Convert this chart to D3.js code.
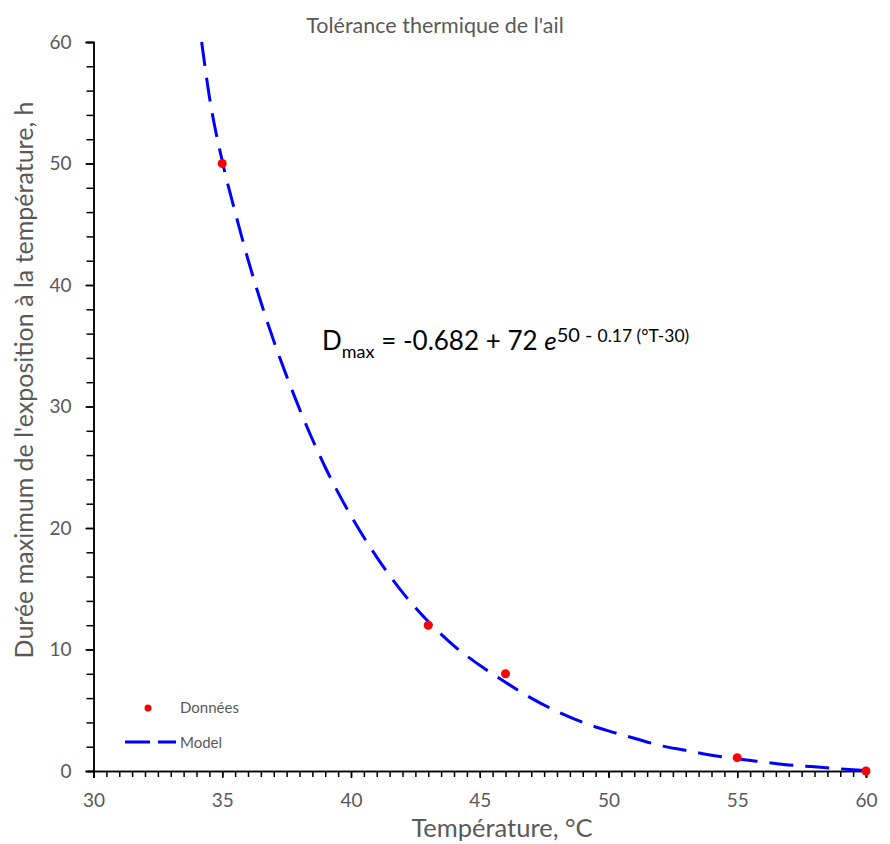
<!DOCTYPE html>
<html>
<head>
    <title>Tolérance thermique de l'ail</title>
    <script src="https://d3js.org/d3.v7.min.js"></script>
    <style>
        body { margin: 0; background: #fff; }
        text { font-family: Lato, "Open Sans", sans-serif; }
    </style>
</head>
<body>
<svg width="890" height="844"></svg>
<script>
    // measured points
    const dataT = [35, 43, 46, 55, 60];
    const dataD = [50, 12, 8, 1.1, 0];

    // model curve
    const modelT = [34.2, 34.5, 35, 35.5, 36, 36.5, 37, 37.5, 38, 39, 40, 41, 42, 43, 44, 45, 46, 47, 48, 49, 50, 51, 52, 53, 54, 55, 56, 57, 58, 59, 60];
    const modelD = [60, 55.5, 50.2, 46, 42.1, 38.6, 35.4, 32.5, 29.8, 25, 21, 17.6, 14.7, 12.3, 10.3, 8.7, 7.3, 6, 4.9, 4, 3.3, 2.7, 2.1, 1.7, 1.3, 1.0, 0.75, 0.5, 0.34, 0.18, 0.04];

    const xTicks = [30, 35, 40, 45, 50, 55, 60];
    const yTicks = [0, 10, 20, 30, 40, 50, 60];

    const svg = d3.select("svg");
    const grey = "#595959";

    const x = d3.scaleLinear().domain([30, 60]).range([93.5, 866]);
    const y = d3.scaleLinear().domain([0, 60]).range([771, 42]);

    // title
    svg.append("text")
        .attr("x", 435).attr("y", 33)
        .attr("text-anchor", "middle")
        .attr("fill", grey)
        .attr("font-size", 21.5)
        .text("Tolérance thermique de l'ail");

    // x axis
    const xAxis = svg.append("g").attr("transform", `translate(0,${y(0)})`);
    xAxis.call(d3.axisBottom(x).tickValues(d3.range(30, 60.01, 0.5)).tickSize(6).tickFormat(""));
    xAxis.append("g").call(d3.axisBottom(x).tickValues(xTicks).tickSize(7).tickPadding(16).tickFormat(d3.format("d")));
    xAxis.selectAll("path.domain").attr("stroke", "#000").attr("stroke-width", 1.5);
    xAxis.selectAll("line").attr("stroke", "#000").attr("stroke-width", 1.5);
    xAxis.selectAll("text").attr("fill", grey).attr("font-size", 19).attr("font-family", "Lato, sans-serif");

    // y axis
    const yAxis = svg.append("g").attr("transform", `translate(${x(30)},0)`);
    yAxis.call(d3.axisLeft(y).tickValues(d3.range(0, 60.01, 2)).tickSize(7).tickFormat(""));
    yAxis.append("g").call(d3.axisLeft(y).tickValues(yTicks).tickSize(8).tickPadding(14).tickFormat(d3.format("d")));
    yAxis.selectAll("path.domain").attr("stroke", "#000").attr("stroke-width", 1.5);
    yAxis.selectAll("line").attr("stroke", "#000").attr("stroke-width", 1.5);
    yAxis.selectAll("text").attr("fill", grey).attr("font-size", 19).attr("font-family", "Lato, sans-serif");

    // axis titles
    svg.append("text")
        .attr("x", 502).attr("y", 837)
        .attr("text-anchor", "middle")
        .attr("fill", grey)
        .attr("font-size", 25.5)
        .text("Température, °C");

    svg.append("text")
        .attr("transform", "translate(33,380) rotate(-90)")
        .attr("text-anchor", "middle")
        .attr("fill", grey)
        .attr("font-size", 25)
        .text("Durée maximum de l'exposition à la température, h");

    // model line
    const model = modelT.map((t, i) => ({t: t, d: modelD[i]}));
    const line = d3.line().x(d => x(d.t)).y(d => y(d.d)).curve(d3.curveMonotoneX);
    svg.append("path")
        .datum(model)
        .attr("d", line)
        .attr("fill", "none")
        .attr("stroke", "#0000ff")
        .attr("stroke-width", 3)
        .attr("stroke-dasharray", "24,12");

    // data points
    svg.selectAll(".pt")
        .data(dataT.map((t, i) => ({t: t, d: dataD[i]})))
        .enter().append("circle")
        .attr("class", "pt")
        .attr("cx", d => x(d.t))
        .attr("cy", d => y(d.d))
        .attr("r", 4.5)
        .attr("fill", "#ff0000");

    // equation
    const eq = svg.append("text")
        .attr("x", 322).attr("y", 350)
        .attr("fill", "#000")
        .attr("font-size", 26);
    eq.append("tspan").text("D");
    eq.append("tspan").attr("font-size", 18).attr("dy", 8).text("max");
    eq.append("tspan").attr("dy", -8).text(" = -0.682 + 72 ");
    eq.append("tspan").attr("font-style", "italic").text("e");
    eq.append("tspan").attr("font-size", 20).attr("dy", -8).text("50 - ");
    eq.append("tspan").attr("font-size", 17.5).text("0.17 (°T-30)");

    // legend
    svg.append("circle").attr("cx", 148).attr("cy", 708).attr("r", 3.5).attr("fill", "#ff0000");
    svg.append("text").attr("x", 180).attr("y", 713).attr("fill", grey).attr("font-size", 15).text("Données");
    svg.append("line")
        .attr("x1", 125).attr("x2", 176).attr("y1", 742).attr("y2", 742)
        .attr("stroke", "#0000ff").attr("stroke-width", 3)
        .attr("stroke-dasharray", "25,8");
    svg.append("text").attr("x", 180).attr("y", 748).attr("fill", grey).attr("font-size", 15).text("Model");
</script>
</body>
</html>
